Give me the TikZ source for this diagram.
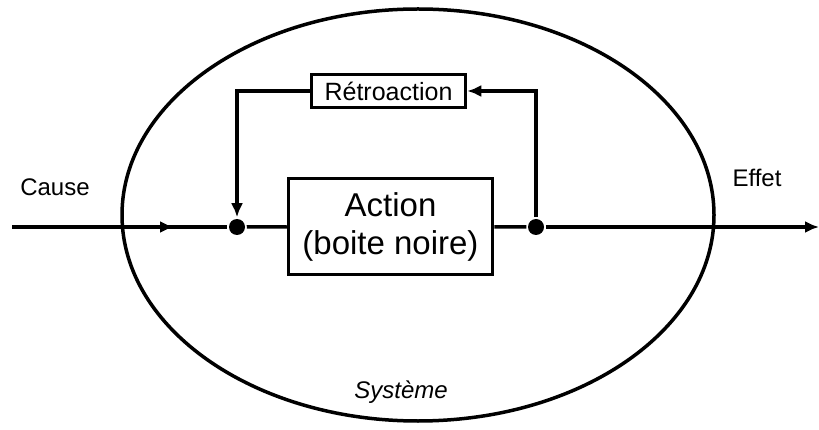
\documentclass[tikz,border=0pt]{standalone}
\usepackage{fontspec}
\setmainfont{Liberation Sans}
\usetikzlibrary{positioning,arrows.meta}

\begin{document}
\begin{tikzpicture}[x=1pt, y=-1pt, line width=3.5pt, >={Latex[length=14pt,width=12pt]}]
  \tikzset{
    bloc/.style={draw, rectangle, inner sep=0pt, align=center},
    point/.style={circle, fill, inner sep=0pt, minimum size=16pt},
    etiquette/.style={font=\fontsize{24}{28}\selectfont}
  }
  \useasboundingbox (0,0) rectangle (819,430);
  % systeme
  \draw (418,215) ellipse [x radius=296, y radius=206];
  % blocs
  \node[bloc, minimum width=204pt, minimum height=96pt, font=\fontsize{33}{38}\selectfont] (action) at (390.5,226.5) {Action\\(boite noire)};
  \node[bloc, minimum width=154pt, minimum height=33pt, font=\fontsize{25}{28}\selectfont] (retro) at (388.5,91) {Rétroaction};
  \node[point] (dotL) at (237,227) {};
  \node[point] (dotR) at (536,227) {};
  \coordinate (start) at (12,227);
  \coordinate (midA) at (174,227);
  \coordinate (end) at (819,227);
  % liaisons
  \draw (start) -- (dotL);
  \draw[->] (start) -- (midA);
  \draw (dotL) -- (action);
  \draw (action) -- (dotR);
  \draw[->] (dotR) -- (end);
  \draw[->] (dotR) |- (retro.east);
  \draw[->] (retro.west) -| (dotL);
  % textes
  \node[etiquette] (cause) at (55,187) {Cause};
  \node[etiquette] (effet) at (757,178) {Effet};
  \node[etiquette, font=\fontsize{24}{28}\selectfont\itshape] (systeme) at (401,392) {Système};
\end{tikzpicture}
\end{document}
